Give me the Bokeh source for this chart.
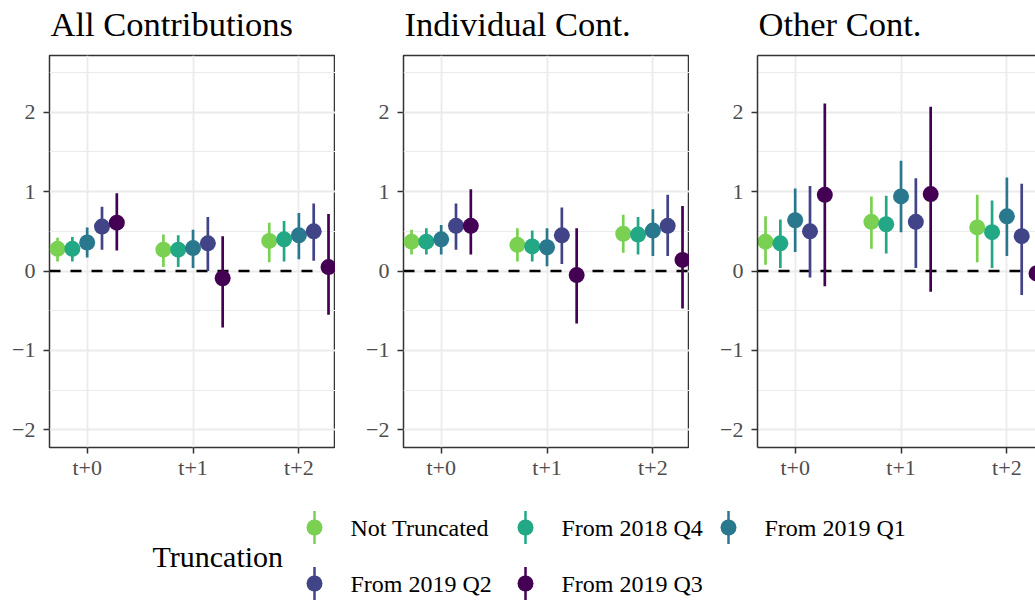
from bokeh.plotting import figure
from bokeh.models import Range1d, FixedTicker, Span, Label, LinearAxis, ColumnDataSource
from bokeh.layouts import column, row
from bokeh.embed import file_html
from bokeh.resources import INLINE
from bokeh.core.properties import value

# ---------------- data ----------------
periods = ["t+0", "t+1", "t+2"]
series = ["Not Truncated", "From 2018 Q4", "From 2019 Q1", "From 2019 Q2", "From 2019 Q3"]
colors = ["#7AD151", "#22A884", "#2A788E", "#414487", "#440154"]
panel_titles = ["All Contributions", "Individual Cont.", "Other Cont."]
legend_title = "Truncation"

# rows = series (order above), columns = periods
all_est = [[0.28, 0.27, 0.38], [0.28, 0.27, 0.40], [0.36, 0.29, 0.45], [0.56, 0.35, 0.50], [0.61, -0.09, 0.05]]
all_lo = [[0.12, 0.05, 0.11], [0.12, 0.05, 0.12], [0.17, 0.04, 0.15], [0.27, 0.00, 0.13], [0.26, -0.71, -0.55]]
all_hi = [[0.42, 0.46, 0.61], [0.43, 0.45, 0.63], [0.55, 0.52, 0.73], [0.81, 0.68, 0.85], [0.98, 0.44, 0.72]]

ind_est = [[0.37, 0.33, 0.47], [0.37, 0.31, 0.46], [0.40, 0.30, 0.51], [0.57, 0.45, 0.57], [0.57, -0.05, 0.14]]
ind_lo = [[0.21, 0.12, 0.23], [0.21, 0.12, 0.21], [0.21, 0.06, 0.19], [0.27, 0.09, 0.19], [0.21, -0.66, -0.47]]
ind_hi = [[0.52, 0.54, 0.71], [0.54, 0.51, 0.68], [0.58, 0.54, 0.78], [0.85, 0.80, 0.96], [1.03, 0.54, 0.82]]

oth_est = [[0.37, 0.62, 0.55], [0.35, 0.59, 0.49], [0.64, 0.94, 0.69], [0.50, 0.62, 0.44], [0.96, 0.97, -0.03]]
oth_lo = [[0.08, 0.28, 0.11], [0.04, 0.22, 0.04], [0.24, 0.49, 0.19], [-0.08, 0.04, -0.30], [-0.19, -0.26, -1.67]]
oth_hi = [[0.69, 0.94, 0.96], [0.65, 0.95, 0.89], [1.04, 1.39, 1.18], [1.07, 1.17, 1.10], [2.11, 2.07, 1.31]]

y_ticks = [-2, -1, 0, 1, 2]
y_minor = [-1.5, -0.5, 0.5, 1.5, 2.5]

# ---------------- style / layout ----------------
SERIF = "Liberation Serif"
TOTAL_W = 1035
X0 = 0.644
PX_PER_X = 105.85
FRAME_W = 286
FRAME_H = 392
Y0, Y1 = -2.222, 2.715
DODGE = 0.14
BORDER = "#333333"
GRID = "#EBEBEB"
LEFT1 = 49          # left border of first panel
LEFT_N = 68         # left border of following panels
TOP_B = 6
BOTTOM_B = 36
STRIP_H = 49        # height of the strip holding the panel titles
LEG_H = 603 - STRIP_H - TOP_B - FRAME_H - BOTTOM_B


def make_panel(est, lo, hi, left_border, frame_w, clipped=False):
    x_end = X0 + frame_w / PX_PER_X
    p = figure(frame_width=frame_w, frame_height=FRAME_H,
               x_range=Range1d(X0, x_end), y_range=Range1d(Y0, Y1),
               output_backend="svg", toolbar_location=None,
               min_border_left=left_border, min_border_right=0,
               min_border_top=TOP_B, min_border_bottom=BOTTOM_B)
    p.background_fill_color = "white"
    p.border_fill_color = "white"
    if clipped:
        p.outline_line_color = None
    else:
        p.outline_line_color = BORDER
        p.outline_line_width = 1.5

    xt = FixedTicker(ticks=[1, 2, 3])
    yt = FixedTicker(ticks=y_ticks, minor_ticks=y_minor)
    p.xaxis.ticker = xt
    p.yaxis.ticker = yt
    p.xgrid.ticker = xt
    p.ygrid.ticker = yt
    p.xaxis.major_label_overrides = {i + 1: lab for i, lab in enumerate(periods)}
    p.yaxis.major_label_overrides = {t: (str(t) if t >= 0 else "\u2212" + str(-t)) for t in y_ticks}

    for ax in (p.xaxis[0], p.yaxis[0]):
        ax.axis_line_color = BORDER if clipped else None
        ax.axis_line_width = 1.5
        ax.major_tick_line_color = BORDER
        ax.major_tick_line_width = 1.5
        ax.major_tick_out = 6
        ax.major_tick_in = 0
        ax.minor_tick_line_color = None
        ax.major_label_text_font = SERIF
        ax.major_label_text_font_size = "22px"
        ax.major_label_text_color = "#4D4D4D"
    p.xaxis.major_label_standoff = 1
    p.yaxis.major_label_standoff = 8

    if clipped:
        top = LinearAxis(ticker=FixedTicker(ticks=[]), axis_line_color=BORDER, axis_line_width=1.5,
                         major_tick_line_color=None, minor_tick_line_color=None,
                         major_tick_out=0, major_tick_in=0, major_label_standoff=0,
                         major_label_text_font_size="0px")
        p.add_layout(top, "above")

    p.xgrid.grid_line_color = GRID
    p.xgrid.grid_line_width = 1.8
    p.ygrid.grid_line_color = GRID
    p.ygrid.grid_line_width = 1.8
    p.ygrid.minor_grid_line_color = GRID
    p.ygrid.minor_grid_line_width = 1.0

    p.add_layout(Span(location=0, dimension="width", line_color="black", line_width=2.5,
                      line_dash="11 10", level="underlay"))

    for si, name in enumerate(series):
        xs = [pi + 1 + (si - 2) * DODGE for pi in range(len(periods))]
        src = ColumnDataSource(dict(x=xs, est=est[si], lo=lo[si], hi=hi[si]))
        p.segment(x0="x", y0="lo", x1="x", y1="hi", source=src,
                  line_color=colors[si], line_width=2.7)
        p.scatter(x="x", y="est", source=src, size=16, marker="circle",
                  fill_color=colors[si], line_color=colors[si], line_width=0)
    return p


frame_lefts = [LEFT1 + i * (FRAME_W + LEFT_N) for i in range(len(panel_titles))]
p1 = make_panel(all_est, all_lo, all_hi, LEFT1, FRAME_W)
p2 = make_panel(ind_est, ind_lo, ind_hi, LEFT_N, FRAME_W)
p3 = make_panel(oth_est, oth_lo, oth_hi, LEFT_N, TOTAL_W - frame_lefts[2], clipped=True)


def blank(h):
    f = figure(width=TOTAL_W, height=h, x_range=Range1d(0, TOTAL_W), y_range=Range1d(h, 0),
               output_backend="svg", toolbar_location=None,
               min_border=0, min_border_left=0, min_border_right=0, min_border_top=0, min_border_bottom=0)
    f.axis.visible = False
    f.grid.visible = False
    f.outline_line_color = None
    f.background_fill_color = "white"
    f.border_fill_color = "white"
    return f


# ---------------- panel titles strip ----------------
strip = blank(STRIP_H)
tsrc = ColumnDataSource(dict(x=[v + 1 for v in frame_lefts], y=[23.5] * len(panel_titles), t=panel_titles))
strip.text(x="x", y="y", text="t", source=tsrc, text_font=value(SERIF), text_font_size="34.5px",
           text_baseline="middle", text_align="left", text_color="black")

# ---------------- legend ----------------
leg = blank(LEG_H)
col_x = [314, 525, 728]
row_y = [44, 100]
kx = [col_x[i % 3] for i in range(len(series))]
ky = [row_y[i // 3] for i in range(len(series))]
lsrc = ColumnDataSource(dict(x=kx, y=ky, y0=[v - 16.5 for v in ky], y1=[v + 16.5 for v in ky],
                             tx=[v + 36 for v in kx], name=series, color=colors))
leg.segment(x0="x", y0="y0", x1="x", y1="y1", source=lsrc, line_color="color", line_width=2.5)
leg.scatter(x="x", y="y", source=lsrc, size=16, marker="circle", fill_color="color",
            line_color="color", line_width=0)
leg.text(x="tx", y="y", text="name", source=lsrc, text_font=value(SERIF), text_font_size="24px",
         text_baseline="middle", text_align="left", text_color="black")
leg.add_layout(Label(x=152, y=73, text=legend_title, text_font=SERIF, text_font_size="30px",
                     text_baseline="middle", text_align="left", text_color="black"))

layout = column(strip, row(p1, p2, p3, spacing=0), leg, spacing=0)
open("out.html", "w").write(file_html(layout, INLINE))
